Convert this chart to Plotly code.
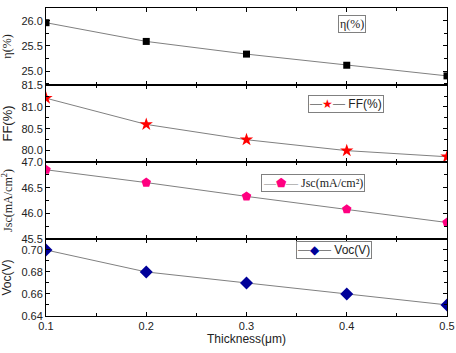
import plotly.graph_objects as go
from plotly.subplots import make_subplots

thickness = [0.1, 0.2, 0.3, 0.4, 0.5]
eta = [25.96, 25.59, 25.34, 25.12, 24.91]
ff = [81.20, 80.60, 80.25, 80.00, 79.86]
jsc = [46.85, 46.60, 46.33, 46.08, 45.82]
voc = [0.70, 0.68, 0.67, 0.66, 0.65]

x_ticks = [0.1, 0.2, 0.3, 0.4, 0.5]
x_tick_labels = ["0.1", "0.2", "0.3", "0.4", "0.5"]

SANS = "Liberation Sans, Arial, sans-serif"
SERIF = "Liberation Serif, Times New Roman, serif"
GRAY = "#808080"

fig = make_subplots(rows=4, cols=1, shared_xaxes=True, vertical_spacing=0)

line = dict(color=GRAY, width=1)
fig.add_trace(go.Scatter(x=thickness, y=eta, mode="lines+markers", name="η(%)",
                         line=line, marker=dict(symbol="square", size=7, color="black")), row=1, col=1)
fig.add_trace(go.Scatter(x=thickness, y=ff, mode="lines+markers", name="FF(%)",
                         line=line, marker=dict(symbol="star", size=10, color="#FF0000")), row=2, col=1)
fig.add_trace(go.Scatter(x=thickness, y=jsc, mode="lines+markers", name="Jsc(mA/cm²)",
                         line=line, marker=dict(symbol="pentagon", size=10, color="#FF0080")), row=3, col=1)
fig.add_trace(go.Scatter(x=thickness, y=voc, mode="lines+markers", name="Voc(V)",
                         line=line, marker=dict(symbol="diamond", size=10, color="#000099")), row=4, col=1)

axis_common = dict(showline=True, linecolor="black", linewidth=1, mirror="ticks",
                   ticks="inside", ticklen=4, tickwidth=1, tickcolor="black",
                   showgrid=False, zeroline=False, automargin=False,
                   tickfont=dict(family=SANS, size=11, color="#222"))

for r in range(1, 5):
    fig.update_xaxes(range=[0.1, 0.5], tickvals=x_ticks, ticktext=x_tick_labels,
                     minor=dict(dtick=0.05, ticks="inside", ticklen=3, tickcolor="black"),
                     showticklabels=(r == 4), row=r, col=1, **axis_common)

fig.update_xaxes(title=dict(text="Thickness(μm)", font=dict(family=SANS, size=12, color="#222"),
                            standoff=2), row=4, col=1)

fig.update_yaxes(range=[24.73, 26.25], tickvals=[25.0, 25.5, 26.0], ticktext=["25.0", "25.5", "26.0"],
                 minor=dict(dtick=0.25, ticks="inside", ticklen=3, tickcolor="black"),
                 title=dict(text="η(%)", font=dict(family=SERIF, size=12, color="#222")),
                 row=1, col=1, **axis_common)
fig.update_yaxes(range=[79.74, 81.502], tickvals=[80.0, 80.5, 81.0, 81.5], ticktext=["80.0", "80.5", "81.0", "81.5"],
                 minor=dict(dtick=0.25, ticks="inside", ticklen=3, tickcolor="black"),
                 title=dict(text="FF(%)", font=dict(family=SANS, size=13, color="#222")),
                 row=2, col=1, **axis_common)
fig.update_yaxes(range=[45.498, 47.002], tickvals=[45.5, 46.0, 46.5, 47.0], ticktext=["45.5", "46.0", "46.5", "47.0"],
                 minor=dict(dtick=0.25, ticks="inside", ticklen=3, tickcolor="black"),
                 title=dict(text="Jsc(mA/cm<sup>2</sup>)", font=dict(family=SERIF, size=12, color="#222")),
                 row=3, col=1, **axis_common)
fig.update_yaxes(range=[0.6399, 0.71], tickvals=[0.64, 0.66, 0.68, 0.70], ticktext=["0.64", "0.66", "0.68", "0.70"],
                 minor=dict(dtick=0.01, ticks="inside", ticklen=3, tickcolor="black"),
                 title=dict(text="Voc(V)", font=dict(family=SANS, size=12, color="#222")),
                 row=4, col=1, **axis_common)


def key(glyph, color, label, sep=" "):
    return (f'<span style="color:{GRAY}">—</span><span style="color:{color}">{glyph}</span>'
            f'<span style="color:{GRAY}">—</span>{sep}{label}')


def box(text, x, y, family):
    return dict(text=text, xref="paper", yref="paper", x=x, y=y,
                xanchor="center", yanchor="middle", showarrow=False,
                font=dict(family=family, size=12, color="#222"),
                bordercolor=GRAY, borderwidth=1, borderpad=1, bgcolor="white")


fig.update_layout(
    width=456, height=353,
    margin=dict(l=46, r=9, t=8, b=37),
    plot_bgcolor="white", paper_bgcolor="white",
    showlegend=False,
    annotations=[
        box("η(%)", 0.762, 0.948, SERIF),
        box(key("★", "#FF0000", "FF(%)"), 0.747, 0.689, SANS),
        box(key("⬟", "#FF0080", "Jsc(mA/cm²)"), 0.665, 0.432, SERIF),
        box(key("◆", "#000099", "Voc(V)"), 0.719, 0.214, SANS),
    ],
)

fig.write_html("out.html", config={"displayModeBar": False},
               post_script="document.body.style.margin='0';")
